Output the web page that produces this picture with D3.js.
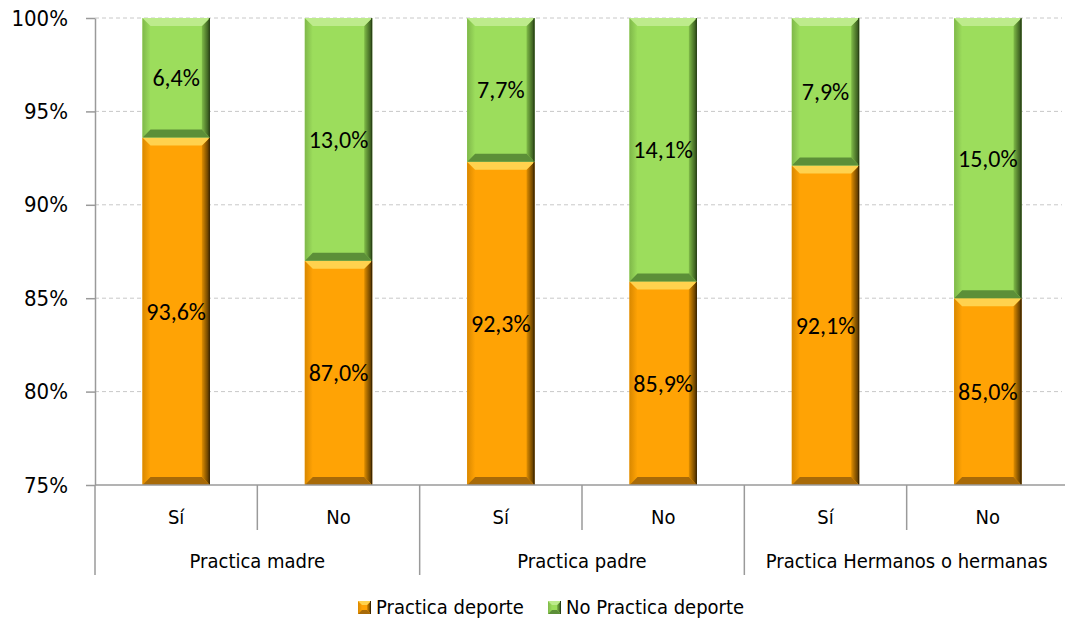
<!DOCTYPE html>
<html>
<head>
<meta charset="utf-8">
<script src="https://cdn.jsdelivr.net/npm/d3@7"></script>
<style>
  body { margin: 0; background: #fff; }
  text { fill: #000; }
</style>
</head>
<body>
<div id="chart"></div>
<script>
var groups = ["Practica madre", "Practica padre", "Practica Hermanos o hermanas"];
var answers = ["Sí", "No"];
var practica = [93.6, 87.0, 92.3, 85.9, 92.1, 85.0];
var noPractica = [6.4, 13.0, 7.7, 14.1, 7.9, 15.0];
var yTicks = [75, 80, 85, 90, 95, 100];
var seriesNames = ["Practica deporte", "No Practica deporte"];

var svgWidth = 1065, svgHeight = 625;
var margin = {top: 18, right: -4, bottom: 140, left: 95};
var chartWidth = svgWidth - margin.left - margin.right;
var chartHeight = svgHeight - margin.top - margin.bottom;

var svg = d3.select("#chart").append("svg")
  .attr("width", svgWidth).attr("height", svgHeight);

var defs = svg.append("defs");
function gradient(id, c1, c2) {
  var gr = defs.append("linearGradient").attr("id", id).attr("x1", 0).attr("x2", 1).attr("y1", 0).attr("y2", 0);
  gr.append("stop").attr("offset", "0%").attr("stop-color", c1);
  gr.append("stop").attr("offset", "100%").attr("stop-color", c2);
}
gradient("rightP", "#E08E00", "#4a2e00");
gradient("rightN", "#80BC48", "#2d4a18");
gradient("leftP", "#D98800", "#FFA305");
gradient("leftN", "#7FB84A", "#9CDD5C");

var chartGroup = svg.append("g")
  .attr("transform", `translate(${margin.left},${margin.top})`);

var cats = [];
groups.forEach(function(g, gi) {
  answers.forEach(function(a, ai) {
    var i = gi * 2 + ai;
    cats.push({key: g + "|" + a, group: g, answer: a, p: practica[i], n: noPractica[i]});
  });
});

var x = d3.scaleBand().domain(cats.map(d => d.key)).range([0, chartWidth]).paddingInner(0.585).paddingOuter(0.2925);
var step = x.step();
var y = d3.scaleLinear().domain([75, 100]).range([chartHeight, 0]);

// gridlines
chartGroup.selectAll("line.grid").data(yTicks.slice(1)).enter().append("line")
  .attr("x1", 0).attr("x2", svgWidth - margin.left - 3)
  .attr("y1", d => y(d)).attr("y2", d => y(d))
  .attr("stroke", "#c8c8c8").attr("stroke-dasharray", "4,3");

var colors = {
  p: {base: "#FFA305", top: "#FFD24E", bottom: "#A86A08", left: "url(#leftP)", right: "url(#rightP)", edge: "#3d2600"},
  n: {base: "#9CDD5C", top: "#BDEB8C", bottom: "#5C8F38", left: "url(#leftN)", right: "url(#rightN)", edge: "#2a4218"}
};

function bevelBar(g, x0, y0, w, h, c, bev) {
  var b = Math.min(bev || 8, h / 2);
  g.append("rect").attr("x", x0).attr("y", y0).attr("width", w).attr("height", h).attr("fill", c.base);
  g.append("polygon").attr("points", [[x0, y0], [x0 + b, y0 + b], [x0 + b, y0 + h - b], [x0, y0 + h]].join(" "))
    .attr("fill", c.left);
  g.append("polygon").attr("points", [[x0 + w, y0], [x0 + w - b, y0 + b], [x0 + w - b, y0 + h - b], [x0 + w, y0 + h]].join(" "))
    .attr("fill", c.right);
  g.append("polygon").attr("points", [[x0, y0], [x0 + w, y0], [x0 + w - b, y0 + b], [x0 + b, y0 + b]].join(" "))
    .attr("fill", c.top);
  g.append("polygon").attr("points", [[x0, y0 + h], [x0 + b, y0 + h - b], [x0 + w - b, y0 + h - b], [x0 + w, y0 + h]].join(" "))
    .attr("fill", c.bottom);
  g.append("line").attr("x1", x0 + w - 0.5).attr("x2", x0 + w - 0.5).attr("y1", y0).attr("y2", y0 + h)
    .attr("stroke", c.edge).attr("stroke-width", 1);
}

var fmt = v => v.toFixed(1).replace(".", ",") + "%";
var labelFont = "Carlito, 'Open Sans', sans-serif";
var axisFont = "'Liberation Sans Narrow', 'DejaVu Sans Condensed', sans-serif";

var bars = chartGroup.selectAll("g.bar").data(cats).enter().append("g").attr("class", "bar");
bars.each(function(d) {
  var g = d3.select(this);
  var bx = x(d.key), bw = x.bandwidth();
  bevelBar(g, bx, y(d.p), bw, y(75) - y(d.p), colors.p);
  bevelBar(g, bx, y(100), bw, y(d.p) - y(100), colors.n);
  g.append("text").attr("x", bx + bw / 2).attr("y", (y(d.p) + y(75)) / 2).attr("dy", "0.35em")
    .attr("text-anchor", "middle").style("font-family", labelFont).style("font-size", "24px")
    .text(fmt(d.p));
  g.append("text").attr("x", bx + bw / 2).attr("y", (y(d.p) + y(100)) / 2).attr("dy", "0.35em")
    .attr("text-anchor", "middle").style("font-family", labelFont).style("font-size", "24px")
    .text(fmt(d.n));
});

// y axis
var yAxis = chartGroup.append("g").call(d3.axisLeft(y).tickValues(yTicks).tickFormat(d => d + "%").tickSizeInner(9).tickSizeOuter(0));
yAxis.select(".domain").attr("stroke", "#9a9a9a").attr("stroke-width", 1.5);
yAxis.selectAll(".tick line").attr("stroke", "#9a9a9a").attr("stroke-width", 1.5);
yAxis.selectAll(".tick text").attr("x", -27).style("font-family", axisFont)
  .style("font-size", "22px").attr("fill", "#000");

// x axis baseline and category separators
var axisCol = "#9a9a9a";
chartGroup.append("line").attr("x1", 0).attr("x2", chartWidth).attr("y1", chartHeight).attr("y2", chartHeight)
  .attr("stroke", axisCol).attr("stroke-width", 1.5);
cats.forEach(function(d, i) {
  var left = x(d.key) - (step - x.bandwidth()) / 2;
  var isGroupStart = i % 2 === 0;
  chartGroup.append("line").attr("x1", left).attr("x2", left)
    .attr("y1", chartHeight).attr("y2", chartHeight + (isGroupStart ? 90 : 45))
    .attr("stroke", axisCol).attr("stroke-width", 1.5);
  chartGroup.append("text").attr("x", left + step / 2).attr("y", chartHeight + 39)
    .attr("text-anchor", "middle").style("font-family", axisFont)
    .style("font-size", "20px").text(d.answer);
});
groups.forEach(function(g, gi) {
  var left = x(cats[gi * 2].key) - (step - x.bandwidth()) / 2;
  chartGroup.append("text").attr("x", left + step).attr("y", chartHeight + 83)
    .attr("text-anchor", "middle").style("font-family", axisFont)
    .style("font-size", "20px").text(g);
});

// legend
var legend = svg.append("g").attr("transform", "translate(358,601)");
var legX = [0, 190];
seriesNames.forEach(function(name, i) {
  var lg = legend.append("g").attr("transform", `translate(${legX[i]},0)`);
  bevelBar(lg, 0, 0, 13, 13, i === 0 ? colors.p : colors.n, 4);
  lg.append("text").attr("x", 18).attr("y", 13).style("font-family", axisFont)
    .style("font-size", "20px").text(name);
});
</script>
</body>
</html>
